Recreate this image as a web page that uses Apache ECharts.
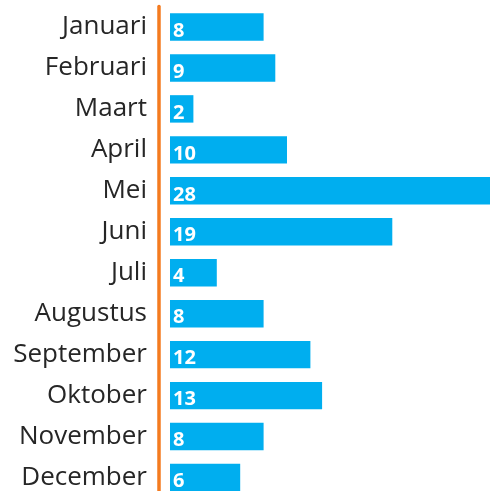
<!DOCTYPE html>
<html>
<head>
<meta charset="utf-8">
<script src="https://cdn.jsdelivr.net/npm/echarts@6/dist/echarts.min.js"></script>
<style>
  html, body { margin: 0; padding: 0; background: #fff; overflow: hidden; }
  #chart { width: 521px; height: 498px; }
</style>
</head>
<body>
<div id="chart"></div>
<script>
var months = ['Januari', 'Februari', 'Maart', 'April', 'Mei', 'Juni', 'Juli',
              'Augustus', 'September', 'Oktober', 'November', 'December'];
var counts = [8, 9, 2, 10, 28, 19, 4, 8, 12, 13, 8, 6];

var myChart = echarts.init(document.getElementById('chart'));
var option = {
    animation: false,
    grid: {
        left: 159,
        right: 0,
        top: 6.5,
        bottom: 0
    },
    xAxis: {
        type: 'value',
        min: -0.94,
        max: 30,
        show: false
    },
    yAxis: {
        type: 'category',
        inverse: true,
        data: months,
        axisLine: {
            onZero: false,
            lineStyle: { color: '#f47b20', width: 3.5 }
        },
        axisTick: { show: false },
        axisLabel: {
            margin: 12,
            fontFamily: 'Open Sans',
            fontSize: 26,
            color: '#262626'
        }
    },
    series: [
        {
            type: 'bar',
            data: counts,
            barCategoryGap: '33%',
            itemStyle: { color: '#00aeef' },
            label: {
                show: true,
                position: 'insideLeft',
                distance: 3,
                offset: [0, 4],
                color: '#fff',
                fontFamily: 'Open Sans',
                fontWeight: 'bold',
                fontSize: 20
            }
        }
    ]
};
myChart.setOption(option);
</script>
</body>
</html>
